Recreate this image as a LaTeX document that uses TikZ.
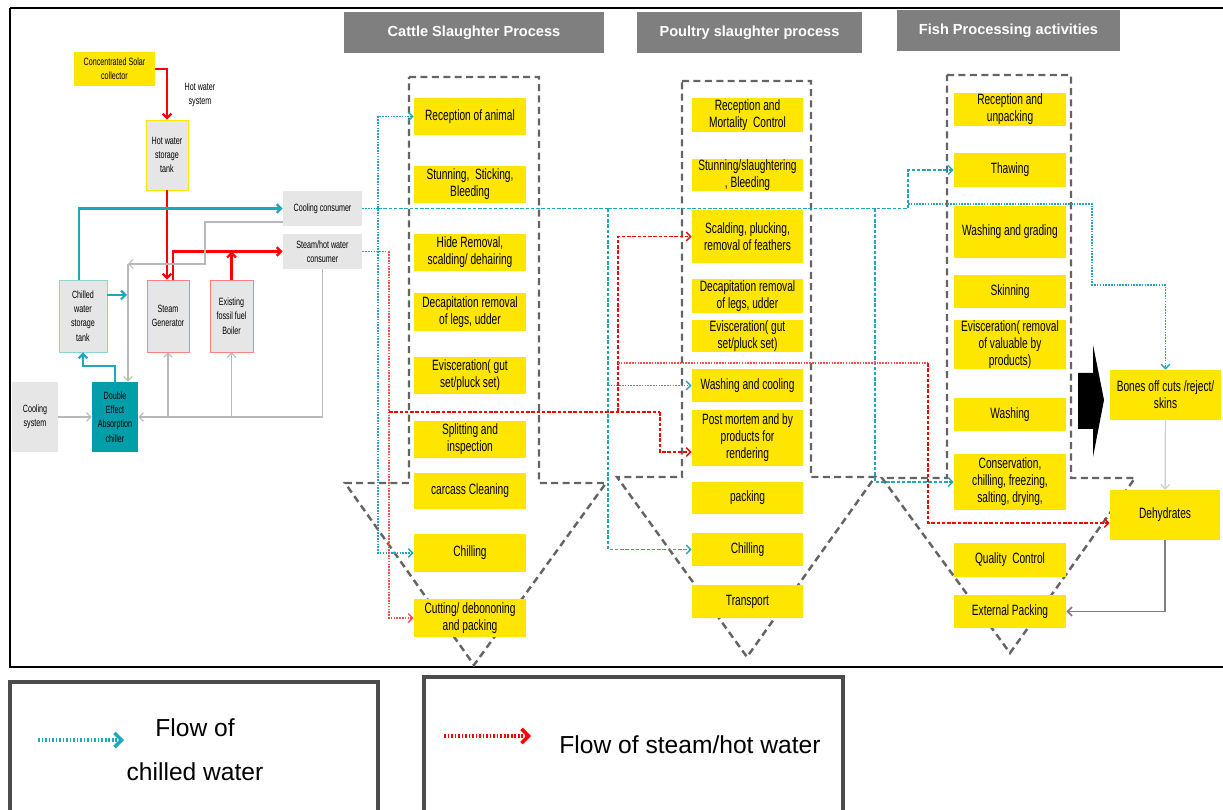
\documentclass[tikz,border=0pt]{standalone}
\usepackage{fontspec}
\setmainfont{Liberation Sans}
\newfontfamily\narrowsf[FakeStretch=0.68]{Liberation Sans}
\usetikzlibrary{calc}
\usetikzlibrary{positioning}
\usetikzlibrary{arrows.meta}
\definecolor{procyellow}{RGB}{255,230,0}
\definecolor{unitgray}{RGB}{230,230,230}
\definecolor{headgray}{RGB}{127,127,127}
\definecolor{chillblue}{RGB}{30,168,185}
\definecolor{chillerteal}{RGB}{0,158,168}
\definecolor{hotred}{RGB}{255,0,0}
\definecolor{funnelgray}{RGB}{100,100,100}

\tikzset{
  proc/.style={fill=procyellow, inner sep=0pt, align=center,
    font=\narrowsf\fontsize{8.5}{9.7}\selectfont, minimum width=2.24cm},
  unit/.style={fill=unitgray, inner sep=0pt, align=center,
    font=\narrowsf\fontsize{6}{8.2}\selectfont},
  header/.style={fill=headgray, text=white, inner sep=0pt,
    font=\bfseries\fontsize{8.3}{9.6}\selectfont, minimum height=0.82cm},
  funnel/.style={draw=funnelgray, line width=1.4pt, dash pattern=on 4pt off 2.5pt},
  chillpipe/.style={chillblue, line width=1.3pt},
  hotpipe/.style={hotred, line width=1.3pt},
  retpipe/.style={gray!55, line width=0.6pt},
  chilldot/.style={chillblue, line width=0.85pt, dash pattern=on 0.9pt off 0.7pt},
  chilldash/.style={chillblue, line width=0.8pt, dash pattern=on 2pt off 1pt},
  hotdot/.style={hotred!70, line width=0.85pt, dash pattern=on 0.9pt off 0.7pt},
  hotdash/.style={hotred, line width=0.8pt, dash pattern=on 2pt off 1pt},
  legtext/.style={align=center, font=\fontsize{14}{25}\selectfont},
}

\begin{document}
\begin{tikzpicture}[%
  >={Straight Barb[length=2.5pt,width=5pt]},
  x=0.02cm, y=-0.02cm,
]
  \useasboundingbox (0,0) rectangle (1223,810);

  % frame
  \draw[line width=1.6pt] (1223,8) -- (10,8);
  \draw[line width=1.2pt] (10,8) -- (10,667) -- (1223,667);

  % funnels
  \draw[funnel] (409,77) -- (539,77) -- (539,483) -- (606,483) -- (474,665)
    -- (345,483) -- (409,483) -- cycle;
  \draw[funnel] (682,81) -- (811,81) -- (811,477) -- (875,477) -- (747,657)
    -- (617,477) -- (682,477) -- cycle;
  \draw[funnel] (947,75) -- (1071,75) -- (1071,478) -- (1135,478) -- (1010,653)
    -- (882,478) -- (947,478) -- cycle;

  % headers
  \node[header, minimum width=5.2cm] (hcattle) at (474,32.5) {Cattle Slaughter Process};
  \node[header, minimum width=4.5cm] (hpoultry) at (749.5,32.5) {Poultry slaughter process};
  \node[header, minimum width=4.46cm] (hfish) at (1008.5,30.5) {Fish Processing activities};

  % utility side
  \node[fill=procyellow, inner sep=0pt, align=center,
    font=\narrowsf\fontsize{6}{8.2}\selectfont,
    minimum width=1.62cm, minimum height=0.68cm] (solar) at (114.5,69)
    {Concentrated Solar\\ collector};
  \node[align=center, font=\narrowsf\fontsize{6}{8.2}\selectfont] (hwsys) at (200,95)
    {Hot water\\ system};
  \node[unit, draw=procyellow, minimum width=0.84cm, minimum height=1.4cm] (hwtank)
    at (167,155) {Hot water\\ storage\\ tank};
  \node[unit, draw=chillblue!50, minimum width=0.96cm, minimum height=1.44cm] (chtank)
    at (83,316) {Chilled\\ water\\ storage\\ tank};
  \node[unit, draw=hotred!50, minimum width=0.84cm, minimum height=1.44cm] (steamgen)
    at (168,316) {Steam\\ Generator};
  \node[unit, draw=hotred!50, minimum width=0.86cm, minimum height=1.44cm] (boiler)
    at (231.5,316) {Existing\\ fossil fuel\\ Boiler};
  \node[unit, minimum width=1.58cm, minimum height=0.7cm] (coolcons)
    at (322.5,208.5) {Cooling consumer};
  \node[unit, minimum width=1.58cm, minimum height=0.7cm] (steamcons)
    at (322.5,251.5) {Steam/hot water\\ consumer};
  \node[unit, minimum width=0.92cm, minimum height=1.4cm] (coolsys)
    at (35,417) {Cooling\\ system};
  \node[unit, fill=chillerteal, minimum width=0.92cm, minimum height=1.4cm] (chiller)
    at (115,417) {Double\\ Effect\\ Absorption\\ chiller};

  % cattle
  \node[proc, minimum height=0.74cm] (c1) at (470,116.5) {Reception of animal};
  \node[proc, minimum height=0.74cm] (c2) at (470,184.5) {Stunning,\ \ Sticking,\\ Bleeding};
  \node[proc, minimum height=0.74cm] (c3) at (470,252.5) {Hide Removal,\\ scalding/ dehairing};
  \node[proc, minimum height=0.76cm] (c4) at (470,312) {Decapitation removal\\ of legs, udder};
  \node[proc, minimum height=0.74cm] (c5) at (470,375.5) {Evisceration( gut\\ set/pluck set)};
  \node[proc, minimum height=0.74cm] (c6) at (470,439.5) {Splitting and\\ inspection};
  \node[proc, minimum height=0.72cm] (c7) at (470,491) {carcass Cleaning};
  \node[proc, minimum height=0.76cm] (c8) at (470,553) {Chilling};
  \node[proc, minimum height=0.76cm] (c9) at (470,618) {Cutting/ debononing\\ and packing};

  % poultry
  \node[proc, minimum width=2.22cm, minimum height=0.68cm] (p1) at (747.5,115) {Reception and\\ Mortality\ \ Control};
  \node[proc, minimum width=2.22cm, minimum height=0.64cm] (p2) at (747.5,175) {Stunning/slaughtering\\ , Bleeding};
  \node[proc, minimum width=2.22cm, minimum height=1.06cm] (p3) at (747.5,236.5) {Scalding, plucking,\\ removal of feathers};
  \node[proc, minimum width=2.22cm, minimum height=0.68cm] (p4) at (747.5,296) {Decapitation removal\\ of legs, udder};
  \node[proc, minimum width=2.22cm, minimum height=0.64cm] (p5) at (747.5,336) {Evisceration( gut\\ set/pluck set)};
  \node[proc, minimum width=2.22cm, minimum height=0.66cm] (p6) at (747.5,385.5) {Washing and cooling};
  \node[proc, minimum width=2.22cm, minimum height=1.12cm] (p7) at (747.5,438) {Post mortem and by\\ products for\\ rendering};
  \node[proc, minimum width=2.22cm, minimum height=0.64cm] (p8) at (747.5,498) {packing};
  \node[proc, minimum width=2.22cm, minimum height=0.66cm] (p9) at (747.5,549.5) {Chilling};
  \node[proc, minimum width=2.22cm, minimum height=0.66cm] (p10) at (747.5,601.5) {Transport};

  % fish
  \node[proc, minimum height=0.66cm] (f1) at (1010,109.5) {Reception and\\ unpacking};
  \node[proc, minimum height=0.68cm] (f2) at (1010,170) {Thawing};
  \node[proc, minimum height=1.04cm] (f3) at (1010,232) {Washing and grading};
  \node[proc, minimum height=0.66cm] (f4) at (1010,291.5) {Skinning};
  \node[proc, minimum height=0.98cm] (f5) at (1010,344.5) {Evisceration( removal\\ of valuable by\\ products)};
  \node[proc, minimum height=0.66cm] (f6) at (1010,414.5) {Washing};
  \node[proc, minimum height=1.12cm] (f7) at (1010,482) {Conservation,\\ chilling, freezing,\\ salting, drying,};
  \node[proc, minimum height=0.68cm] (f8) at (1010,560) {Quality\ \ Control};
  \node[proc, minimum height=0.66cm] (f9) at (1010,611.5) {External Packing};
  \node[proc, minimum width=2.22cm, minimum height=1.0cm] (bones) at (1165.5,395) {Bones off cuts /reject/\\ skins};
  \node[proc, minimum width=2.2cm, minimum height=1.0cm] (dehyd) at (1165,515) {Dehydrates};

  % utility pipes
  \coordinate (rta) at (205,264);
  \coordinate (rtb) at (128,264);
  \coordinate (chout) at (127,295);
  \draw[hotpipe,->] (solar.east) -| (hwtank.north);
  \draw[hotpipe,->] (hwtank.south) -- (hwtank.south |- steamgen.north);
  \draw[hotpipe,->] ($(steamgen.north)+(5,0)$) |- (steamcons.west);
  \draw[hotpipe,->] (boiler.north) -- (boiler.north |- steamcons.west);
  \draw[chillpipe,->] ($(chtank.north)+(-4,0)$) |- (coolcons.west);
  \draw[chillpipe,->] (chtank.east |- chout) -- (chout);
  \draw[chillpipe,->] (chiller.north) -- ++(0,-16) -| (chtank.south);
  \draw[retpipe,->] ($(coolcons.west)+(0,13.5)$) -| (rta) -- (rtb);
  \draw[retpipe,->] (rtb) -- (rtb |- chiller.north);
  \draw[retpipe,->] (steamcons.south) |- (chiller.east);
  \draw[retpipe,->] (steamgen.south |- chiller.east) -- (steamgen.south);
  \draw[retpipe,->] (boiler.south |- chiller.east) -- (boiler.south);
  \draw[retpipe,->] (coolsys) -- (chiller);

  % chilled water
  \coordinate (cwa) at (378,208.5);
  \coordinate (cwb) at (608,208.5);
  \coordinate (cwc) at (875,208.5);
  \coordinate (cwd) at (908,208.5);
  \coordinate (cwe) at (1092,204);
  \coordinate (cwf) at (1165.5,285);
  \draw[chilldot] (coolcons.east) -- (cwa);
  \draw[chilldash] (cwa) -- (cwb);
  \draw[chilldot,<->] (c1.west) -| (cwa) |- (c8.west);
  \draw[chilldash,->] (cwb) |- (p9.west);
  \draw[chilldot,->] (cwb |- p6.west) -- (p6.west);
  \draw[chilldash] (cwb) -- (cwd);
  \draw[chilldash,->] (cwc) |- (f7.west);
  \draw[chilldash,->] (cwd) |- (f2.west);
  \draw[chilldot,->] (cwd |- cwe) -- (cwe) |- (cwf) -- (bones.north);

  % steam / hot water
  \coordinate (hwa) at (389,251.5);
  \coordinate (hwb) at (389,412);
  \coordinate (hwc) at (618,412);
  \coordinate (hwd) at (660,412);
  \coordinate (hwe) at (618,363);
  \coordinate (hwf) at (928,363);
  \draw[hotdot] (steamcons.east) -- (hwa);
  \draw[hotdot,->] (hwa) |- (c9.west);
  \draw[hotdash] (hwb) -- (hwd);
  \draw[hotdash,->] (hwc) |- (p3.west);
  \draw[hotdash,->] (hwd) |- ($(p7.west)+(0,14)$);
  \draw[hotdot] (hwe) -- (hwf);
  \draw[hotdash,->] (hwf) |- ($(dehyd.west)+(0,8)$);

  % by-products
  \fill (1078,373) -- (1093,373) -- (1093,345) -- (1104,400) -- (1093,457)
    -- (1093,429) -- (1078,429) -- cycle;
  \draw[gray!40, line width=0.7pt, ->] (bones) -- (dehyd);
  \draw[gray, line width=1pt, ->] (dehyd.south) |- (f9.east);

  % legend
  \draw[black!70, line width=1.8pt] (10,815) |- (378,682) -- (378,815);
  \draw[black!70, line width=1.8pt] (424,815) |- (843,677) -- (843,815);
  \coordinate (lca) at (38,740);
  \coordinate (lcb) at (124,740);
  \coordinate (lha) at (444,736);
  \coordinate (lhb) at (531,736);
  \draw[chillblue, line width=2pt, dash pattern=on 1pt off 1pt,
    >={Straight Barb[length=4pt,width=8pt]}, ->] (lca) -- (lcb);
  \draw[hotred, line width=2pt, dash pattern=on 1pt off 1pt,
    >={Straight Barb[length=4pt,width=8pt]}, ->] (lha) -- (lhb);
  \node[legtext] (legchill) at (195,750) {Flow of\\ chilled water};
  \node[legtext] (leghot) at (690,745) {Flow of steam/hot water};

\end{tikzpicture}
\end{document}
